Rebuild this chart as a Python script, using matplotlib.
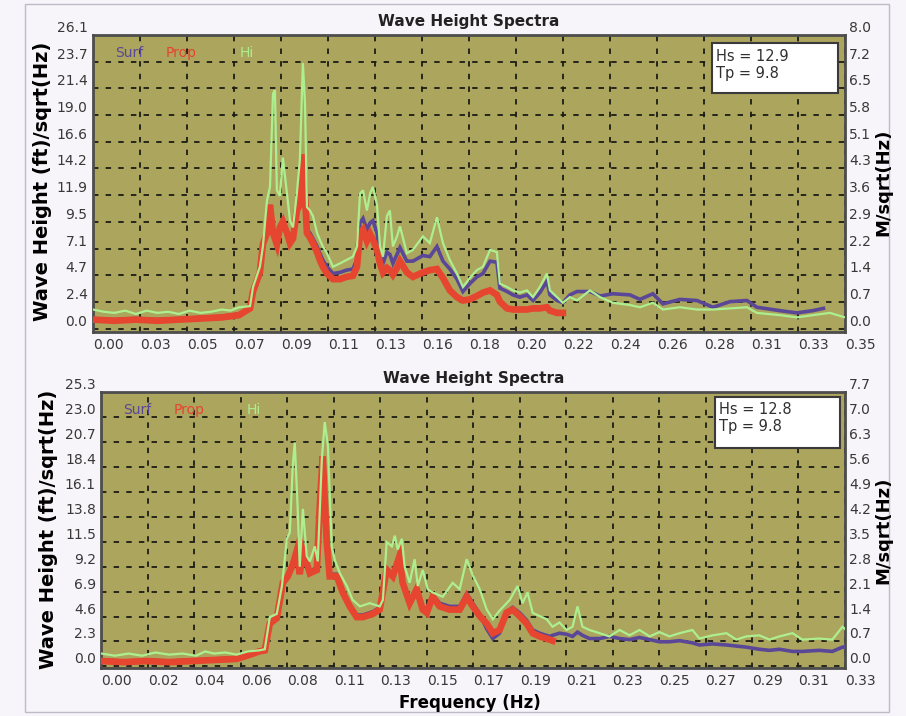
import numpy as np
import matplotlib.pyplot as plt
from matplotlib.patches import Rectangle

# ---- top panel data (frequency Hz, wave height ft/sqrt(Hz)) ----
top_hi = [(0.000, 1.7), (0.005, 1.5), (0.010, 1.4), (0.015, 1.6), (0.020, 1.3), (0.025, 1.6),
          (0.030, 1.4), (0.035, 1.5), (0.040, 1.3), (0.045, 1.6), (0.050, 1.4), (0.055, 1.5),
          (0.060, 1.7), (0.064, 1.6), (0.068, 1.9), (0.0731, 2.0), (0.0745, 3.7), (0.0777, 5.5),
          (0.0791, 7.3), (0.0810, 11.4), (0.0824, 12.6), (0.0838, 20.9), (0.0847, 21.2),
          (0.0856, 12.3), (0.0870, 11.8), (0.0884, 15.2), (0.0903, 12.0), (0.0917, 9.6),
          (0.0931, 9.0), (0.0949, 12.0), (0.0963, 15.0), (0.0977, 23.6), (0.0987, 20.0),
          (0.0996, 10.8), (0.1010, 10.5), (0.1024, 10.0), (0.1043, 8.5), (0.1056, 7.9),
          (0.1070, 7.3), (0.1089, 6.7), (0.1117, 5.5), (0.1150, 5.8), (0.1180, 6.1),
          (0.1210, 6.4), (0.1229, 7.3), (0.1243, 12.0), (0.1257, 12.3), (0.1275, 10.5),
          (0.1290, 12.0), (0.1303, 12.6), (0.1322, 11.0), (0.1336, 7.3), (0.1350, 6.4),
          (0.1368, 10.0), (0.1382, 10.5), (0.1396, 7.3), (0.1415, 8.2), (0.1429, 9.1),
          (0.1461, 6.7), (0.1489, 7.0), (0.1536, 8.2), (0.1568, 7.6), (0.1601, 9.9),
          (0.1629, 7.6), (0.1661, 6.1), (0.1694, 4.9), (0.1722, 3.7), (0.1754, 4.5),
          (0.1787, 5.2), (0.1815, 5.5), (0.1848, 7.0), (0.1880, 6.8), (0.1894, 4.0),
          (0.1927, 3.7), (0.1955, 3.4), (0.1987, 3.2), (0.2020, 3.4), (0.2048, 2.8),
          (0.2080, 3.7), (0.2113, 4.9), (0.2127, 3.4), (0.2160, 2.8), (0.2187, 2.3),
          (0.2220, 2.8), (0.2253, 2.5), (0.2313, 3.4), (0.2360, 2.8), (0.2420, 2.3),
          (0.2499, 2.1), (0.2546, 1.9), (0.2606, 2.3), (0.2653, 1.7), (0.2732, 1.9),
          (0.2811, 1.7), (0.2886, 1.7), (0.2965, 1.8), (0.3044, 1.9), (0.3090, 1.4),
          (0.3197, 1.2), (0.3276, 1.0), (0.3351, 1.2), (0.3430, 1.4), (0.3500, 1.0)]

top_surf = [(0.000, 0.9), (0.010, 0.8), (0.020, 0.9), (0.030, 0.8), (0.040, 0.9), (0.050, 1.0),
            (0.060, 1.1), (0.068, 1.3), (0.0731, 1.8), (0.0745, 3.3), (0.0777, 5.0),
            (0.0791, 7.5), (0.0810, 8.7), (0.0824, 11.0), (0.0838, 8.8), (0.0856, 7.7),
            (0.0870, 9.2), (0.0884, 9.7), (0.0903, 8.7), (0.0917, 7.8), (0.0931, 8.2),
            (0.0949, 10.6), (0.0963, 11.2), (0.0977, 15.0), (0.0996, 8.8), (0.1010, 8.5),
            (0.1024, 8.0), (0.1043, 7.3), (0.1056, 6.7), (0.1070, 6.1), (0.1089, 5.5),
            (0.1117, 4.9), (0.1150, 5.0), (0.1180, 5.2), (0.1210, 5.3), (0.1229, 6.2),
            (0.1243, 9.4), (0.1257, 9.8), (0.1275, 8.8), (0.1290, 9.4), (0.1303, 9.6),
            (0.1322, 8.5), (0.1336, 6.5), (0.1350, 5.8), (0.1368, 6.8), (0.1382, 6.6),
            (0.1396, 5.8), (0.1415, 6.6), (0.1429, 7.2), (0.1461, 6.0), (0.1489, 6.0),
            (0.1536, 6.5), (0.1568, 6.4), (0.1601, 7.3), (0.1629, 6.0), (0.1661, 5.3),
            (0.1694, 4.4), (0.1722, 3.3), (0.1754, 4.0), (0.1787, 4.6), (0.1815, 4.9),
            (0.1848, 6.0), (0.1880, 5.9), (0.1894, 3.6), (0.1927, 3.3), (0.1955, 3.0),
            (0.1987, 2.8), (0.2020, 3.0), (0.2048, 2.5), (0.2080, 3.2), (0.2113, 4.2),
            (0.2127, 3.0), (0.2160, 2.5), (0.2187, 2.3), (0.2220, 3.0), (0.2253, 3.3),
            (0.2313, 3.3), (0.2360, 2.9), (0.2420, 3.1), (0.2499, 3.0), (0.2546, 2.6),
            (0.2606, 3.1), (0.2653, 2.2), (0.2732, 2.6), (0.2811, 2.5), (0.2886, 1.9),
            (0.2965, 2.4), (0.3044, 2.5), (0.3090, 1.9), (0.3197, 1.6), (0.3276, 1.4),
            (0.3351, 1.6), (0.3400, 1.8)]

top_prop = [(0.000, 0.8), (0.010, 0.7), (0.020, 0.8), (0.030, 0.7), (0.040, 0.8), (0.050, 0.9),
            (0.060, 1.0), (0.068, 1.2), (0.0731, 1.8), (0.0745, 3.3), (0.0777, 5.0),
            (0.0791, 7.5), (0.0810, 8.5), (0.0824, 11.0), (0.0838, 8.5), (0.0856, 7.5),
            (0.0870, 9.0), (0.0884, 9.5), (0.0903, 8.5), (0.0917, 7.6), (0.0931, 8.0),
            (0.0949, 10.5), (0.0963, 11.0), (0.0977, 15.5), (0.0996, 8.5), (0.1010, 8.1),
            (0.1024, 7.6), (0.1043, 6.8), (0.1056, 6.1), (0.1070, 5.5), (0.1089, 4.9),
            (0.1117, 4.4), (0.1150, 4.4), (0.1180, 4.6), (0.1210, 4.7), (0.1229, 5.5),
            (0.1243, 8.5), (0.1257, 8.8), (0.1275, 7.8), (0.1290, 8.4), (0.1303, 7.9),
            (0.1322, 7.0), (0.1336, 5.8), (0.1350, 5.0), (0.1368, 5.4), (0.1382, 5.2),
            (0.1396, 4.8), (0.1415, 5.4), (0.1429, 6.0), (0.1461, 5.0), (0.1489, 4.6),
            (0.1536, 5.0), (0.1568, 5.2), (0.1601, 5.3), (0.1629, 4.5), (0.1661, 3.4),
            (0.1694, 2.8), (0.1722, 2.5), (0.1754, 2.6), (0.1787, 2.9), (0.1815, 3.2),
            (0.1848, 3.4), (0.1880, 3.0), (0.1894, 2.4), (0.1927, 1.8), (0.1955, 1.7),
            (0.1987, 1.7), (0.2020, 1.7), (0.2048, 1.8), (0.2080, 1.8), (0.2113, 1.9),
            (0.2127, 1.6), (0.2160, 1.4), (0.2187, 1.4)]

# ---- bottom panel data ----
bot_hi = [(0.000, 1.2), (0.006, 1.0), (0.012, 1.2), (0.018, 1.0), (0.024, 1.3), (0.030, 1.1),
          (0.036, 1.2), (0.042, 1.0), (0.046, 1.4), (0.050, 1.2), (0.055, 1.3), (0.060, 1.1),
          (0.065, 1.4), (0.070, 1.5), (0.0725, 1.6), (0.0747, 4.6), (0.0778, 4.9),
          (0.0801, 7.5), (0.0823, 11.9), (0.0836, 12.5), (0.0849, 18.7), (0.0858, 20.9),
          (0.0871, 14.7), (0.0880, 9.3), (0.0894, 14.7), (0.0911, 10.3), (0.0925, 9.8),
          (0.0947, 11.2), (0.0960, 9.8), (0.0978, 19.3), (0.0991, 22.8), (0.1005, 20.6),
          (0.1022, 11.2), (0.1036, 9.9), (0.1058, 8.7), (0.1089, 7.5), (0.1115, 6.2),
          (0.1147, 5.6), (0.1191, 5.9), (0.1235, 5.6), (0.1249, 6.2), (0.1266, 11.6),
          (0.1289, 11.2), (0.1302, 12.2), (0.1315, 10.9), (0.1333, 11.9), (0.1346, 9.3),
          (0.1368, 7.8), (0.1390, 10.0), (0.1404, 7.5), (0.1426, 9.0), (0.1448, 7.2),
          (0.1470, 6.9), (0.1515, 6.5), (0.1559, 7.8), (0.1590, 7.2), (0.1621, 10.0),
          (0.1648, 8.5), (0.1679, 7.2), (0.1710, 5.3), (0.1737, 4.4), (0.1767, 5.2),
          (0.1812, 6.2), (0.1847, 7.5), (0.1869, 5.9), (0.1891, 6.9), (0.1914, 5.0),
          (0.1945, 4.7), (0.1976, 4.4), (0.2002, 3.7), (0.2033, 4.1), (0.2064, 3.4),
          (0.2091, 3.7), (0.2113, 5.6), (0.2135, 3.7), (0.2166, 3.4), (0.2211, 3.1),
          (0.2255, 2.8), (0.2300, 3.4), (0.2344, 2.9), (0.2388, 3.4), (0.2433, 2.8),
          (0.2477, 3.2), (0.2521, 2.8), (0.2566, 3.1), (0.2623, 3.4), (0.2654, 2.6),
          (0.2712, 2.9), (0.2774, 3.1), (0.2818, 2.5), (0.2862, 2.8), (0.2920, 2.9),
          (0.2965, 2.5), (0.3009, 2.8), (0.3067, 3.1), (0.3111, 2.5), (0.3186, 2.6),
          (0.3244, 2.5), (0.3289, 3.7), (0.3300, 3.5)]

bot_surf = [(0.000, 0.6), (0.010, 0.5), (0.020, 0.6), (0.030, 0.5), (0.040, 0.6), (0.050, 0.7),
            (0.060, 0.8), (0.066, 1.2), (0.070, 1.5), (0.0725, 1.6), (0.0747, 4.1),
            (0.0778, 4.6), (0.0805, 7.9), (0.0827, 8.5), (0.0849, 9.7), (0.0867, 10.8),
            (0.0880, 8.8), (0.0894, 10.8), (0.0925, 8.9), (0.0956, 9.2), (0.0969, 15.0),
            (0.0982, 19.0), (0.1000, 11.6), (0.1013, 8.6), (0.1045, 8.6), (0.1071, 7.1),
            (0.1102, 5.8), (0.1133, 4.8), (0.1160, 4.8), (0.1204, 5.1), (0.1235, 5.5),
            (0.1266, 9.2), (0.1293, 8.6), (0.1323, 10.3), (0.1337, 8.0), (0.1368, 6.1),
            (0.1399, 7.4), (0.1426, 5.6), (0.1444, 5.3), (0.1470, 6.7), (0.1501, 5.9),
            (0.1545, 5.6), (0.1590, 5.6), (0.1621, 6.8), (0.1648, 5.9), (0.1679, 4.9),
            (0.1710, 3.5), (0.1737, 2.6), (0.1767, 3.1), (0.1798, 5.1), (0.1825, 5.5),
            (0.1856, 5.0), (0.1887, 4.3), (0.1914, 3.4), (0.1945, 3.1), (0.1989, 2.8),
            (0.2002, 2.9), (0.2033, 3.1), (0.2064, 3.0), (0.2091, 2.8), (0.2113, 3.2),
            (0.2135, 2.9), (0.2166, 2.6), (0.2211, 2.6), (0.2255, 2.8), (0.2300, 2.6),
            (0.2344, 2.5), (0.2388, 2.7), (0.2433, 2.5), (0.2477, 2.3), (0.2521, 2.3),
            (0.2566, 2.4), (0.2623, 2.2), (0.2654, 2.0), (0.2712, 2.1), (0.2774, 2.0),
            (0.2818, 1.9), (0.2862, 1.8), (0.2920, 1.6), (0.2965, 1.5), (0.3009, 1.6),
            (0.3067, 1.4), (0.3111, 1.4), (0.3186, 1.5), (0.3244, 1.4), (0.3289, 1.8),
            (0.3300, 1.8)]

bot_prop = [(0.000, 0.5), (0.010, 0.4), (0.020, 0.5), (0.030, 0.4), (0.040, 0.5), (0.050, 0.6),
            (0.060, 0.7), (0.066, 1.1), (0.070, 1.4), (0.0725, 1.5), (0.0747, 4.0),
            (0.0778, 4.5), (0.0805, 7.8), (0.0827, 8.4), (0.0849, 9.5), (0.0867, 10.8),
            (0.0880, 8.6), (0.0894, 10.8), (0.0925, 8.7), (0.0956, 9.0), (0.0969, 15.0),
            (0.0982, 19.6), (0.1000, 11.6), (0.1013, 8.4), (0.1045, 8.4), (0.1071, 6.9),
            (0.1102, 5.6), (0.1133, 4.6), (0.1160, 4.6), (0.1204, 4.9), (0.1235, 5.3),
            (0.1266, 9.0), (0.1293, 8.4), (0.1323, 10.3), (0.1337, 7.8), (0.1368, 5.9),
            (0.1399, 7.2), (0.1426, 5.3), (0.1444, 5.0), (0.1470, 6.5), (0.1501, 5.6),
            (0.1545, 5.3), (0.1590, 5.3), (0.1621, 6.5), (0.1648, 5.6), (0.1679, 4.7),
            (0.1710, 4.0), (0.1737, 3.1), (0.1767, 3.4), (0.1798, 5.0), (0.1825, 5.3),
            (0.1856, 4.7), (0.1887, 4.0), (0.1914, 3.1), (0.1945, 2.8), (0.1989, 2.5),
            (0.2002, 2.4)]

# axis ticks / labels
top_xlabels = ["0.00", "0.03", "0.05", "0.07", "0.09", "0.11", "0.13", "0.16", "0.18",
               "0.20", "0.22", "0.24", "0.26", "0.28", "0.31", "0.33", "0.35"]
bot_xlabels = ["0.00", "0.02", "0.04", "0.06", "0.08", "0.11", "0.13", "0.15", "0.17",
               "0.19", "0.21", "0.23", "0.25", "0.27", "0.29", "0.31", "0.33"]
top_ylabels = ["0.0", "2.4", "4.7", "7.1", "9.5", "11.9", "14.2", "16.6", "19.0", "21.4", "23.7", "26.1"]
top_rlabels = ["0.0", "0.7", "1.4", "2.2", "2.9", "3.6", "4.3", "5.1", "5.8", "6.5", "7.2", "8.0"]
bot_ylabels = ["0.0", "2.3", "4.6", "6.9", "9.2", "11.5", "13.8", "16.1", "18.4", "20.7", "23.0", "25.3"]
bot_rlabels = ["0.0", "0.7", "1.4", "2.1", "2.8", "3.5", "4.2", "4.9", "5.6", "6.3", "7.0", "7.7"]
top_stats = "Hs = 12.9\nTp = 9.8"
bot_stats = "Hs = 12.8\nTp = 9.8"

GREEN = "#adef90"
PURPLE = "#5a4797"
RED = "#e6452f"
OLIVE = "#aba55e"
GRID = "#1c1c14"
TXT = "#383838"

fig = plt.figure(figsize=(9.06, 7.16), dpi=100)
fig.patch.set_facecolor("#f7f5f9")
fig.patches.append(Rectangle((25 / 906, 4 / 716), 864 / 906, 708 / 716, transform=fig.transFigure,
                             fill=False, edgecolor="#bdbcc6", lw=1.0))


def panel(rect, hi, surf, prop, fmax, ymax, ylo, xl, yl, rl, stats, box, leg_y):
    ax = fig.add_axes(rect)
    ax.set_facecolor(OLIVE)
    for data, col, lw, z in [(surf, PURPLE, 2.6, 3), (prop, RED, 4.8, 4), (hi, GREEN, 1.6, 5)]:
        f, v = zip(*data)
        ax.plot(f, v, color=col, lw=lw, zorder=z, solid_joinstyle="miter")
    ax.set_xlim(0, fmax)
    ax.set_ylim(ylo, ymax)
    xt = np.linspace(0, fmax, len(xl))
    yt = np.linspace(0, ymax, len(yl))
    ax.set_xticks(xt)
    ax.set_xticklabels(xl, ha="left")
    ax.set_yticks(yt)
    ax.set_yticklabels(yl)
    for lab in ax.get_yticklabels():
        lab.set_va("bottom")
    ax.tick_params(length=0, labelsize=10, labelcolor=TXT, pad=4)
    ax.grid(True, color=GRID, linestyle=(0, (3, 4)), lw=1.3)
    ax.set_axisbelow(True)
    for sp in ax.spines.values():
        sp.set_color("#4d4d4d")
        sp.set_linewidth(2)
    ax.set_title("Wave Height Spectra", fontsize=11, fontweight="bold", pad=6.5, color="#222222")

    ax2 = ax.twinx()
    ax2.set_ylim(ylo, ymax)
    ax2.set_yticks(yt)
    ax2.set_yticklabels(rl)
    for lab in ax2.get_yticklabels():
        lab.set_va("bottom")
    ax2.tick_params(length=0, labelsize=10, labelcolor=TXT, pad=3)
    for sp in ax2.spines.values():
        sp.set_visible(False)

    ax.text(0.029, leg_y, "Surf", transform=ax.transAxes, color=PURPLE, fontsize=10, va="center")
    ax.text(0.097, leg_y, "Prop", transform=ax.transAxes, color=RED, fontsize=10, va="center")
    ax.text(0.195, leg_y, "Hi", transform=ax.transAxes, color=GREEN, fontsize=10, va="center")

    x0, y0, x1, y1 = box
    ax.add_patch(Rectangle((x0, y0), x1 - x0, y1 - y0, transform=ax.transAxes,
                           facecolor="white", edgecolor="#3a3a3a", lw=1.5, zorder=10))
    ax.text(x0 + 0.005, y1 - 0.02, stats, transform=ax.transAxes, fontsize=10.5,
            va="top", ha="left", color="#303030", zorder=11, linespacing=1.15)
    return ax


panel([0.1026, 0.5363, 0.8300, 0.4148], top_hi, top_surf, top_prop, 0.35, 26.1, -0.3,
      top_xlabels, top_ylabels, top_rlabels, top_stats, (0.823, 0.805, 0.991, 0.973), 0.939)
panel([0.1120, 0.0670, 0.8206, 0.3855], bot_hi, bot_surf, bot_prop, 0.33, 25.6, -0.15,
      bot_xlabels, bot_ylabels, bot_rlabels, bot_stats, (0.825, 0.797, 0.993, 0.982), 0.935)

ylab = "Wave Height (ft)/sqrt(Hz)"
fig.text(0.0464, 0.747, ylab, rotation=90, ha="center", va="center", fontsize=14, fontweight="bold")
fig.text(0.053, 0.26, ylab, rotation=90, ha="center", va="center", fontsize=14, fontweight="bold")
fig.text(0.9746, 0.745, "M/sqrt(Hz)", rotation=90, ha="center", va="center", fontsize=13, fontweight="bold")
fig.text(0.9746, 0.26, "M/sqrt(Hz)", rotation=90, ha="center", va="center", fontsize=13, fontweight="bold")
fig.text(0.519, 0.018, "Frequency (Hz)", ha="center", va="center", fontsize=12, fontweight="bold")

fig.savefig("out.png", dpi=100, facecolor=fig.get_facecolor())
